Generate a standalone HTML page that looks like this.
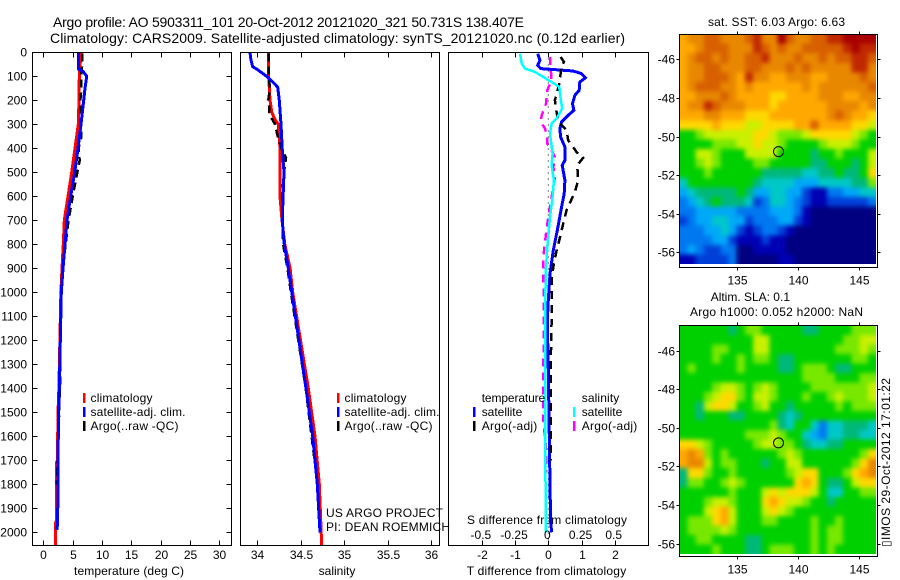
<!DOCTYPE html>
<html><head><meta charset="utf-8"><title>Argo profile</title>
<style>
html,body{margin:0;padding:0;background:#fff}
svg{display:block}
text{font-family:"Liberation Sans",Arial,sans-serif;font-size:12px;fill:#000}
.t{font-size:14px}
</style></head>
<body>
<svg id="fig" width="900" height="580" viewBox="0 0 900 580" xmlns="http://www.w3.org/2000/svg">
<defs>
<filter id="soft" filterUnits="userSpaceOnUse" x="640" y="0" width="260" height="580" color-interpolation-filters="sRGB"><feGaussianBlur stdDeviation="2.4"/></filter>
<clipPath id="clip-sst"><rect x="680" y="34" width="196" height="230"/></clipPath>
<clipPath id="clip-sla"><rect x="680" y="325" width="196" height="229"/></clipPath>
</defs>
<rect x="0" y="0" width="900" height="580" fill="#fff"/>
<text class="t" x="53" y="27" textLength="471" lengthAdjust="spacing">Argo profile: AO 5903311_101 20-Oct-2012 20121020_321 50.731S 138.407E</text>
<text class="t" x="50" y="43" textLength="575" lengthAdjust="spacing">Climatology: CARS2009. Satellite-adjusted climatology: synTS_20121020.nc (0.12d earlier)</text>
<text x="74" y="575" textLength="110" lengthAdjust="spacing">temperature (deg C)</text>
<text x="337" y="575" text-anchor="middle">salinity</text>
<text x="466.7" y="575" textLength="159.5" lengthAdjust="spacing">T difference from climatology</text>
<text x="467" y="524" textLength="160" lengthAdjust="spacing">S difference from climatology</text>
<text x="708" y="26" textLength="137" lengthAdjust="spacing">sat. SST: 6.03 Argo: 6.63</text>
<text x="710.7" y="301" textLength="79.3" lengthAdjust="spacing">Altim. SLA: 0.1</text>
<text x="690" y="316" textLength="173" lengthAdjust="spacing">Argo h1000: 0.052 h2000: NaN</text>
<text transform="translate(890,547) rotate(-90)" textLength="169" lengthAdjust="spacing">▯IMOS 29-Oct-2012 17:01:22</text>
<g id="plots"></g>
<text x="326" y="517" textLength="117" lengthAdjust="spacing">US ARGO PROJECT</text>
<text x="326" y="531" textLength="124" lengthAdjust="spacing">PI: DEAN ROEMMICH</text>
</svg>
<script>
// ---------- chart data ----------
const depthTicks = [0,100,200,300,400,500,600,700,800,900,1000,1100,1200,1300,1400,1500,1600,1700,1800,1900,2000];
const tempTicks = [0,5,10,15,20,25,30];
const salTicks = [34,34.5,35,35.5,36];
const salTickLabels = ['34','34.5','35','35.5','36'];
const tDiffTicks = [-2,-1,0,1,2];
const sDiffTicks = [-0.5,-0.25,0,0.25,0.5];
const sDiffTickLabels = ['-0.5','-0.25','0','0.25','0.5'];
const lonTicks = [135,140,145];
const latTicks = [-46,-48,-50,-52,-54,-56];

const tClimDepth = [0,100,200,300,400,500,600,700,800,900,1000,1400,1500,1700,1710,1950,1960,2054];
const tClimVal = [6.42,6.14,6.08,5.97,5.4,4.84,4.2,3.58,3.41,3.18,3.0,2.65,2.5,2.4,2.25,2.25,2.1,2.1];
const tSatDepth = [0,70,80,100,150,200,300,400,500,600,700,800,900,1000,1400,1500,1700,1950,1990];
const tSatVal = [6.03,6.03,6.8,7.39,7.1,6.88,6.42,5.91,5.35,4.67,4.04,3.7,3.36,3.07,2.73,2.6,2.5,2.45,2.33];
const tArgoDepth = [5,50,100,150,200,300,350,400,450,500,600,700,800,900,1000,1400,1800];
const tArgoVal = [6.6,6.65,6.42,6.5,6.3,6.4,6.5,6.0,6.2,5.8,5.0,4.3,3.8,3.3,3.0,2.85,2.28];

const sClimDepth = [0,100,200,250,280,300,400,600,700,800,900,1000,1400,1600,1800,2054];
const sClimVal = [34.134,34.134,34.15,34.17,34.207,34.245,34.264,34.264,34.287,34.32,34.38,34.41,34.59,34.667,34.716,34.744];
const sSatDepth = [0,30,60,70,85,100,120,145,200,300,400,500,600,700,800,900,1000,1400,1600,1800,2000];
const sSatVal = [33.92,33.93,33.95,33.996,34.054,34.11,34.17,34.238,34.256,34.276,34.29,34.31,34.3,34.29,34.314,34.36,34.4,34.563,34.64,34.693,34.724];
const sArgoDepth = [5,100,150,200,230,260,300,350,400,440,500,600,700,800,900,1000,1400,1800];
const sArgoVal = [34.134,34.134,34.15,34.13,34.14,34.145,34.207,34.238,34.28,34.333,34.31,34.287,34.295,34.3,34.35,34.39,34.56,34.695];

const dtSatDepth = [6,33,54,68,78,89,106,124,158,179,214,242,262,290,318,353,394,450,471,533,589,644,742,825,922,1033,1117,1325,1600,1800,1950,2000];
const dtSatVal = [-0.32,-0.25,-0.32,-0.23,0.75,1.0,1.12,0.95,0.93,0.8,0.73,0.77,0.6,0.4,0.35,0.37,0.5,0.5,0.42,0.5,0.48,0.4,0.27,0.15,0.05,0,-0.03,0,0.03,0.05,0.07,0.1];
const dtArgoDepth = [19,40,58,89,130,200,249,290,325,367,415,439,471,533,582,658,714,783,825,894,950,1061,1117,1325,1700];
const dtArgoVal = [0.37,0.47,0.4,0.37,0.33,0.2,0.25,0.3,0.55,0.6,0.85,1.05,0.87,0.9,0.8,0.55,0.45,0.33,0.25,0.15,0.1,0.1,0.1,0.07,0.07];
const dsSatDepth = [6,47,68,82,103,124,144,193,235,276,297,339,422,471,533,603,686,811,922,1117,1325,1700,2000];
const dsSatVal = [-0.2125,-0.2,-0.175,-0.1,-0.0375,0.025,0.0825,0.0925,0.105,0.0625,0.025,0.0125,0.0325,0.025,0.0425,0.0325,0.0125,-0.0075,-0.02,-0.0225,-0.0225,-0.0225,-0.0175];
const dsArgoDepth = [19,61,117,158,214,262,290,318,353,381,408,436,478,519,603,686,756,853,922,1117,1325,1530,1650,1750];
const dsArgoVal = [0.0125,0.0175,0.025,-0.0075,-0.0175,-0.05,-0.0575,-0.025,-0.0075,-0.0075,0.025,0.05,0.0375,0.05,0.025,0,-0.0175,-0.0375,-0.0375,-0.0325,-0.0375,-0.0375,-0.0175,-0.0175];

const sstLevels = [
[11,12,12,13,13,12,12,12,13,14,12,12,15,13,12,12,13,13,14,14,15,15,15,15],
[11,11,12,13,13,13,12,12,12,14,13,12,13,12,12,13,13,13,13,13,14,15,14,14],
[11,12,13,13,12,13,12,12,13,13,14,12,12,12,13,12,12,13,12,13,13,14,14,13],
[11,12,12,13,13,12,12,12,13,13,12,12,12,13,12,13,12,12,12,12,12,14,14,12],
[11,12,12,13,13,13,12,11,14,12,12,11,11,12,12,12,11,11,12,12,12,12,13,12],
[11,12,13,13,13,12,12,11,12,11,11,11,11,11,11,12,11,12,12,12,12,12,12,13],
[11,11,12,12,12,13,12,11,11,11,11,10,10,11,11,11,11,12,12,12,11,11,12,12],
[11,12,12,14,13,12,12,12,11,11,11,10,11,11,11,11,11,11,12,12,12,12,11,12],
[11,11,11,12,12,11,11,11,10,10,10,11,11,11,11,11,11,11,12,13,12,11,11,10],
[10,10,10,10,11,10,10,10,9,9,10,10,10,10,11,11,13,11,11,11,11,10,10,9],
[7,7,8,9,9,9,9,9,9,10,10,9,8,8,8,9,10,10,10,10,10,9,8,7],
[7,7,7,7,8,8,8,9,9,10,9,9,8,7,7,7,7,8,9,9,9,8,7,7],
[7,7,9,9,8,7,7,7,9,9,9,9,7,7,7,7,6,7,7,8,7,7,7,9],
[7,7,8,9,8,7,7,7,7,8,8,7,7,7,7,7,6,6,7,7,7,6,7,9],
[7,7,7,8,7,7,7,7,7,7,6,6,6,6,6,5,5,6,6,7,6,6,7,10],
[5,7,7,7,7,7,7,7,7,6,5,5,5,5,4,4,4,5,5,5,5,6,6,8],
[4,5,6,6,6,6,6,7,6,4,4,5,5,4,4,2,1,1,3,3,4,4,5,5],
[3,4,5,6,7,6,6,6,5,2,3,5,5,4,3,2,1,1,2,2,2,2,2,3],
[3,3,4,4,4,4,4,3,3,3,3,4,4,4,3,1,0,0,0,0,0,0,0,0],
[2,3,4,4,5,5,4,4,2,3,3,3,4,4,2,1,0,0,0,0,0,0,0,0],
[3,3,3,4,4,5,4,2,1,2,3,3,2,1,0,0,0,0,0,0,0,0,0,0],
[3,3,3,3,4,4,2,1,1,1,2,1,1,0,0,0,0,0,0,0,0,0,0,0],
[3,4,3,2,2,3,3,0,0,1,1,1,1,0,0,0,0,0,0,0,0,0,0,0],
[1,1,2,2,2,2,3,0,0,0,0,0,1,1,0,0,0,0,0,0,0,0,0,0]
];
const slaLevels = [
[7,7,7,7,7,7,6,7,8,8,7,7,7,7,7,6,6,7,7,7,7,8,8,8],
[7,7,7,7,7,7,7,7,7,9,9,7,7,7,7,7,7,7,7,7,8,8,9,9],
[7,7,7,7,8,8,7,7,7,9,9,7,7,7,7,7,7,7,7,8,8,8,9,8],
[7,7,7,7,8,7,7,8,7,8,8,7,6,6,7,7,7,7,7,7,7,8,8,7],
[7,8,7,7,7,7,7,8,7,7,7,7,6,6,7,8,8,8,7,6,6,7,7,7],
[7,7,7,7,7,7,7,7,7,7,7,7,7,7,7,8,8,8,8,7,7,7,8,8],
[7,7,7,7,8,9,9,8,7,8,9,8,7,7,7,7,8,8,8,8,8,8,8,9],
[7,7,7,8,9,10,10,8,7,9,9,8,7,7,7,8,7,7,8,9,8,8,8,9],
[7,7,6,9,10,10,9,7,7,8,9,7,7,6,7,7,7,7,7,8,7,8,8,8],
[7,7,6,7,7,7,6,6,7,7,7,7,6,5,6,7,7,7,7,7,7,7,7,7],
[7,7,7,7,7,7,7,7,7,7,7,8,6,5,7,7,5,3,5,5,6,6,6,5],
[7,7,7,7,7,7,7,7,8,8,8,9,8,7,7,5,4,3,5,5,6,6,5,5],
[10,10,9,8,7,7,7,7,7,8,9,9,8,8,7,6,5,5,6,6,7,7,7,7],
[11,12,11,8,7,8,7,7,7,7,7,7,8,9,8,7,7,7,7,7,7,7,8,10],
[11,12,12,9,7,8,8,7,7,7,6,7,7,9,9,7,7,7,7,7,7,8,10,12],
[6,10,10,8,7,7,8,7,7,7,7,7,7,8,9,10,10,7,7,7,8,10,11,12],
[6,8,8,7,7,8,9,8,7,7,7,7,7,7,10,11,10,7,6,6,7,9,10,10],
[7,7,7,7,7,7,8,7,7,7,9,10,9,10,10,10,9,7,5,5,7,7,8,8],
[7,7,7,8,9,9,8,7,7,7,10,11,10,9,9,8,7,7,6,7,7,7,7,7],
[7,7,7,9,10,11,9,7,7,7,9,10,9,8,7,7,7,7,7,7,7,7,7,7],
[7,8,8,8,10,11,9,7,7,7,8,8,7,7,7,7,8,7,7,8,7,7,7,7],
[7,8,8,8,8,9,8,7,7,7,7,7,7,7,7,7,8,7,8,8,7,7,7,7],
[7,7,8,8,7,7,7,7,6,6,7,7,7,7,7,7,8,7,8,8,7,7,7,7],
[7,7,7,7,8,7,7,7,6,6,7,8,8,8,7,7,8,7,8,7,7,7,7,7]
];
const floatLon = [138.407];
const floatLat = [-50.731];

// ---------- axis functions ----------
const NS = 'http://www.w3.org/2000/svg';
const plots = document.getElementById('plots');
const depthY = d => 52.3 + 0.24 * d;
const tempX = v => 43.3 + 5.87 * v;
const salX = v => 257 + 87 * (v - 34);
const tDiffX = v => 548.3 + 33.2 * v;
const sDiffX = v => 548.3 + 132.8 * v;
const lonX = v => 736.7 + 12.27 * (v - 135);
const latY = (v, top) => top + 25.3 + 19.3 * (-46 - v);

const PANELS = [
  {name:'temperature', x0:32.5, x1:231.5},
  {name:'salinity', x0:240.5, x1:439.5},
  {name:'difference', x0:448.5, x1:648.5}
];
const PTOP = 52.5, PBOT = 545.5;
const palette = ['#000080','#0000b4','#0040d8','#0078f0','#00a8f8','#00c8c8','#00b87a','#00d000','#78e800','#c8f000','#ffd800','#ffa800','#e88800','#d86000','#c02800','#a80000'];

function mk(tag, attrs, parent) {
  const el = document.createElementNS(NS, tag);
  for (const k in attrs) el.setAttribute(k, attrs[k]);
  (parent || plots).appendChild(el);
  return el;
}
function drawSeries(name, depths, vals, xf, color, dash, w) {
  const pts = depths.map((d, i) => xf(vals[i]).toFixed(1) + ',' + depthY(d).toFixed(1)).join(' ');
  const attrs = {points: pts, fill: 'none', stroke: color, 'stroke-width': w, 'shape-rendering': 'crispEdges'};
  if (dash) attrs['stroke-dasharray'] = dash;
  const el = mk('polyline', attrs);
  
  
}
function tickLine(x1, y1, x2, y2, name) {
  const el = mk('line', {x1, y1, x2, y2, stroke: '#000', 'stroke-width': 1, 'shape-rendering': 'crispEdges'});
  
  
}
function label(x, y, str, anchor, name, len) {
  const el = mk('text', {x, y, 'text-anchor': anchor});
  if (len) el.setAttribute('textLength', len);
  el.textContent = str;
  
  
}
function legendKey(x, yc, color, name) {
  const el = mk('line', {x1: x, y1: yc - 5, x2: x, y2: yc + 5, stroke: color, 'stroke-width': 2.5, 'shape-rendering': 'crispEdges'});
  
  
}

// ---------- profile series ----------
drawSeries('temperature-climatology-line', tClimDepth, tClimVal, tempX, '#f00', null, 3);
drawSeries('temperature-argo-line', tArgoDepth, tArgoVal, tempX, '#000', '8 5', 2.5);
drawSeries('temperature-satellite-line', tSatDepth, tSatVal, tempX, '#00f', null, 3);
drawSeries('salinity-climatology-line', sClimDepth, sClimVal, salX, '#f00', null, 3);
drawSeries('salinity-argo-line', sArgoDepth, sArgoVal, salX, '#000', '8 5', 2.5);
drawSeries('salinity-satellite-line', sSatDepth, sSatVal, salX, '#00f', null, 3);

const zeroLine = mk('line', {x1: tDiffX(0), y1: PTOP, x2: tDiffX(0), y2: PBOT, stroke: '#000', 'stroke-width': 1, 'stroke-dasharray': '1 5'});


drawSeries('t-difference-satellite-line', dtSatDepth, dtSatVal, tDiffX, '#00f', null, 3);
drawSeries('t-difference-argo-line', dtArgoDepth, dtArgoVal, tDiffX, '#000', '8 6', 2.5);
drawSeries('s-difference-argo-line', dsArgoDepth, dsArgoVal, sDiffX, '#f0f', '8 6', 2.5);
drawSeries('s-difference-satellite-line', dsSatDepth, dsSatVal, sDiffX, '#0ff', null, 2.5);

// ---------- panel frames and ticks ----------
PANELS.forEach(p => {
  const fr = mk('rect', {x: p.x0, y: PTOP, width: p.x1 - p.x0, height: PBOT - PTOP, fill: 'none', stroke: '#000', 'stroke-width': 1, 'shape-rendering': 'crispEdges'});
  
  
});
depthTicks.forEach(d => {
  const y = Math.round(depthY(d)) + 0.5;
  tickLine(32.5, y, 37.5, y, 'depth-tick-left');
  tickLine(226.5, y, 231.5, y, 'depth-tick-right');
  label(27, y + 4, String(d), 'end', 'depth-tick-label');
});
tempTicks.forEach(v => {
  const x = Math.round(tempX(v)) + 0.5;
  tickLine(x, PTOP, x, PTOP + 5, 'temperature-tick-top');
  tickLine(x, PBOT, x, PBOT - 5, 'temperature-tick-bottom');
  label(x, 559, String(v), 'middle', 'temperature-tick-label');
});
salTicks.forEach((v, i) => {
  const x = Math.round(salX(v)) + 0.5;
  tickLine(x, PTOP, x, PTOP + 5, 'salinity-tick-top');
  tickLine(x, PBOT, x, PBOT - 5, 'salinity-tick-bottom');
  label(x, 559, salTickLabels[i], 'middle', 'salinity-tick-label');
});
tDiffTicks.forEach(v => {
  const x = Math.round(tDiffX(v)) + 0.5;
  tickLine(x, PTOP, x, PTOP + 5, 't-difference-tick-top');
  tickLine(x, PBOT, x, PBOT - 5, 't-difference-tick-bottom');
  label(x, 559, String(v), 'middle', 't-difference-tick-label');
});
sDiffTicks.forEach((v, i) => {
  label(sDiffX(v) - 1, 539, sDiffTickLabels[i], 'middle', 's-difference-tick-label');
});

// ---------- legends ----------
legendKey(84, 398, '#f00', 'temperature-legend-climatology-key');
label(90.5, 402, 'climatology', 'start', 'temperature-legend-climatology', 62);
legendKey(84, 412, '#00f', 'temperature-legend-satellite-key');
label(90.5, 416, 'satellite-adj. clim.', 'start', 'temperature-legend-satellite', 95);
legendKey(84, 426, '#000', 'temperature-legend-argo-key');
label(90.5, 430, 'Argo(..raw -QC)', 'start', 'temperature-legend-argo', 88);
legendKey(338, 398, '#f00', 'salinity-legend-climatology-key');
label(344.5, 402, 'climatology', 'start', 'salinity-legend-climatology', 62);
legendKey(338, 412, '#00f', 'salinity-legend-satellite-key');
label(344.5, 416, 'satellite-adj. clim.', 'start', 'salinity-legend-satellite', 95);
legendKey(338, 426, '#000', 'salinity-legend-argo-key');
label(344.5, 430, 'Argo(..raw -QC)', 'start', 'salinity-legend-argo', 88);
label(481.7, 402, 'temperature', 'start', 'difference-legend-temperature-heading', 63.5);
legendKey(474, 412, '#00f', 'difference-legend-t-satellite-key');
label(481.7, 416, 'satellite', 'start', 'difference-legend-t-satellite', 40.6);
legendKey(474, 426, '#000', 'difference-legend-t-argo-key');
label(481.7, 430, 'Argo(-adj)', 'start', 'difference-legend-t-argo', 55.6);
label(581.7, 402, 'salinity', 'start', 'difference-legend-s-heading', 37.6);
legendKey(574, 412, '#0ff', 'difference-legend-s-satellite-key');
label(581.7, 416, 'satellite', 'start', 'difference-legend-s-satellite', 40.6);
legendKey(574, 426, '#f0f', 'difference-legend-s-argo-key');
label(581.7, 430, 'Argo(-adj)', 'start', 'difference-legend-s-argo', 55.6);

// ---------- maps ----------
function drawMap(prefix, levels, top, bottomImg, bottomFrame) {
  const x0 = 679.3, x1 = 876;
  const rows = levels.length;
  const cols = levels[0].length;
  const cw = (x1 - x0) / cols;
  const ch = (bottomImg - top) / rows;
  const clipG = mk('g', {'clip-path': 'url(#clip-' + prefix + ')'});
  
  
  const softG = mk('g', {filter: 'url(#soft)'}, clipG);
  
  
  levels.forEach((row, r) => row.forEach((lev, c) => {
    // outermost cells bleed past the clip so the smoothing does not fade at the border
    const padL = c === 0 ? 12 : 0, padR = c === cols - 1 ? 12 : 0;
    const padT = r === 0 ? 12 : 0, padB = r === rows - 1 ? 12 : 0;
    const cell = mk('rect', {
      x: (x0 + c * cw - padL).toFixed(2), y: (top + r * ch - padT).toFixed(2),
      width: (cw + 0.4 + padL + padR).toFixed(2), height: (ch + 0.4 + padT + padB).toFixed(2),
      fill: palette[lev], 'shape-rendering': 'crispEdges'
    }, softG);
    
    
  }));
  const fr = mk('rect', {x: 679.5, y: Math.floor(top) + 0.5, width: 198, height: Math.round(bottomFrame - top), fill: 'none', stroke: '#000', 'stroke-width': 1, 'shape-rendering': 'crispEdges'});
  
  
  const yTop = Math.floor(top) + 0.5;
  const yBot = yTop + Math.round(bottomFrame - top);
  lonTicks.forEach(v => {
    const x = Math.round(lonX(v)) + 0.5;
    tickLine(x, yTop, x, yTop - 3, prefix + '-lon-tick-top');
    tickLine(x, yBot, x, yBot + 3, prefix + '-lon-tick-bottom');
    label(x, yBot + 17, String(v), 'middle', prefix + '-lon-tick-label');
  });
  latTicks.forEach(v => {
    const y = Math.round(latY(v, top)) + 0.5;
    tickLine(676.5, y, 679.5, y, prefix + '-lat-tick-left');
    tickLine(877.5, y, 880.5, y, prefix + '-lat-tick-right');
    label(675, y + 4, String(v), 'end', prefix + '-lat-tick-label');
  });
  const m = mk('circle', {cx: lonX(floatLon[0]), cy: latY(floatLat[0], top) + 1, r: 5, fill: 'none', stroke: '#000', 'stroke-width': 1});
  
  
}
drawMap('sst', sstLevels, 34, 264, 266.7);
drawMap('sla', slaLevels, 325.3, 554, 556.7);
</script>
</body></html>
